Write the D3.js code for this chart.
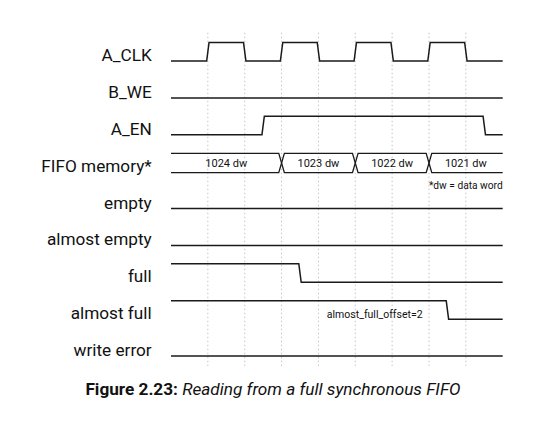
<!DOCTYPE html>
<html>
<head>
<meta charset="utf-8">
<script src="https://cdn.jsdelivr.net/npm/d3@7"></script>
<style>
  body { margin: 0; background: #fff; }
  text { font-family: Roboto, "Noto Sans", sans-serif; fill: #111; }
</style>
</head>
<body>
<div id="chart"></div>
<script>
// signal names, top to bottom
var signalNames = ["A_CLK", "B_WE", "A_EN", "FIFO memory*", "empty", "almost empty", "full", "almost full", "write error"];

// each digital signal: [time, level] transitions (time in clock half-periods)
var aClk = [[-1, 0], [0, 1], [1, 0], [2, 1], [3, 0], [4, 1], [5, 0], [6, 1], [7, 0]];
var bWe = [[-1, 0]];
var aEn = [[-1, 0], [1.5, 1], [7.5, 0]];
var emptySig = [[-1, 0]];
var almostEmpty = [[-1, 0]];
var fullSig = [[-1, 1], [2.5, 0]];
var almostFull = [[-1, 1], [6.5, 0]];
var writeError = [[-1, 0]];

// bus values for FIFO memory
var fifoWords = ["1024 dw", "1023 dw", "1022 dw", "1021 dw"];
var fifoChanges = [-1, 2, 4, 6, 8];

// grid ticks
var gridTimes = [0, 1, 2, 3, 4, 5, 6, 7];

var svgWidth = 535;
var svgHeight = 426;

var svg = d3.select("#chart")
  .append("svg")
  .attr("width", svgWidth)
  .attr("height", svgHeight);

var x = d3.scaleLinear()
  .domain([-1, 8])
  .range([171, 502.7]);

// y of the "low" level of each row
var yRow = d3.scalePoint()
  .domain(signalNames)
  .range([61, 356]);

var high = 18.5;
var slant = 1.2;   // half width of an edge, px
var busHalf = 9.7;
var busTip = 2.8;

// dotted grid lines
svg.append("g")
  .selectAll("line")
  .data(gridTimes)
  .enter()
  .append("line")
  .attr("x1", d => x(d))
  .attr("x2", d => x(d))
  .attr("y1", 32.7)
  .attr("y2", 366)
  .attr("stroke", "#c4c4c4")
  .attr("stroke-width", 1)
  .attr("stroke-dasharray", "1.5,2.5");

// row labels
svg.append("g")
  .selectAll("text")
  .data(signalNames)
  .enter()
  .append("text")
  .attr("x", 151.7)
  .attr("y", d => yRow(d))
  .attr("text-anchor", "end")
  .style("font-size", "17.2px")
  .text(d => d);

// digital waveforms
var waves = [
  ["A_CLK", aClk], ["B_WE", bWe], ["A_EN", aEn], ["empty", emptySig],
  ["almost empty", almostEmpty], ["full", fullSig], ["almost full", almostFull],
  ["write error", writeError]
];

var line = d3.line();

function wavePoints(name, trans) {
  var y0 = yRow(name);
  var lvl = l => y0 - l * high;
  var pts = [[x(trans[0][0]), lvl(trans[0][1])]];
  for (var i = 1; i < trans.length; i++) {
    var t = trans[i][0];
    pts.push([x(t) - slant, lvl(trans[i - 1][1])]);
    pts.push([x(t) + slant, lvl(trans[i][1])]);
  }
  pts.push([x(8), lvl(trans[trans.length - 1][1])]);
  return pts;
}

svg.append("g")
  .selectAll("path")
  .data(waves)
  .enter()
  .append("path")
  .attr("d", d => line(wavePoints(d[0], d[1])))
  .attr("fill", "none")
  .attr("stroke", "#1a1a1a")
  .attr("stroke-width", 1.5);

// bus (FIFO memory)
var busMid = yRow("FIFO memory*") - 9.25 + 0.6;
var busTop = busMid - busHalf;
var busBot = busMid + busHalf;
var lastIdx = fifoWords.length - 1;

function busPath(i) {
  var a = fifoChanges[i], b = fifoChanges[i + 1];
  var xa = x(a), xb = x(b);
  var p = d3.path();
  if (i === 0) {
    p.moveTo(xa, busTop);
  } else {
    p.moveTo(xa, busMid);
    p.lineTo(xa + busTip, busTop);
  }
  if (i === lastIdx) {
    p.lineTo(xb, busTop);
    p.moveTo(xb, busBot);
  } else {
    p.lineTo(xb - busTip, busTop);
    p.lineTo(xb, busMid);
    p.lineTo(xb - busTip, busBot);
  }
  if (i === 0) {
    p.lineTo(xa, busBot);
  } else {
    p.lineTo(xa + busTip, busBot);
    p.lineTo(xa, busMid);
  }
  return p.toString();
}

var busG = svg.append("g");
busG.selectAll("path")
  .data(fifoWords)
  .enter()
  .append("path")
  .attr("d", (d, i) => busPath(i))
  .attr("fill", "none")
  .attr("stroke", "#1a1a1a")
  .attr("stroke-width", 1.3);

busG.selectAll("text")
  .data(fifoWords)
  .enter()
  .append("text")
  .attr("x", (d, i) => x((fifoChanges[i] + fifoChanges[i + 1]) / 2))
  .attr("y", busMid + 4)
  .attr("text-anchor", "middle")
  .style("font-size", "11px")
  .text(d => d);

// notes
svg.append("text")
  .attr("x", x(8))
  .attr("y", 189)
  .attr("text-anchor", "end")
  .style("font-size", "10.2px")
  .text("*dw = data word");

svg.append("text")
  .attr("x", x(4.5) + 1)
  .attr("y", 318.3)
  .attr("text-anchor", "middle")
  .style("font-size", "10.5px")
  .text("almost_full_offset=2");

// caption
var cap = svg.append("text")
  .attr("x", 273)
  .attr("y", 395)
  .attr("text-anchor", "middle")
  .style("font-size", "17.2px");
cap.append("tspan").style("font-weight", "bold").text("Figure 2.23:");
cap.append("tspan").style("font-style", "italic").text(" Reading from a full synchronous FIFO");
</script>
</body>
</html>
